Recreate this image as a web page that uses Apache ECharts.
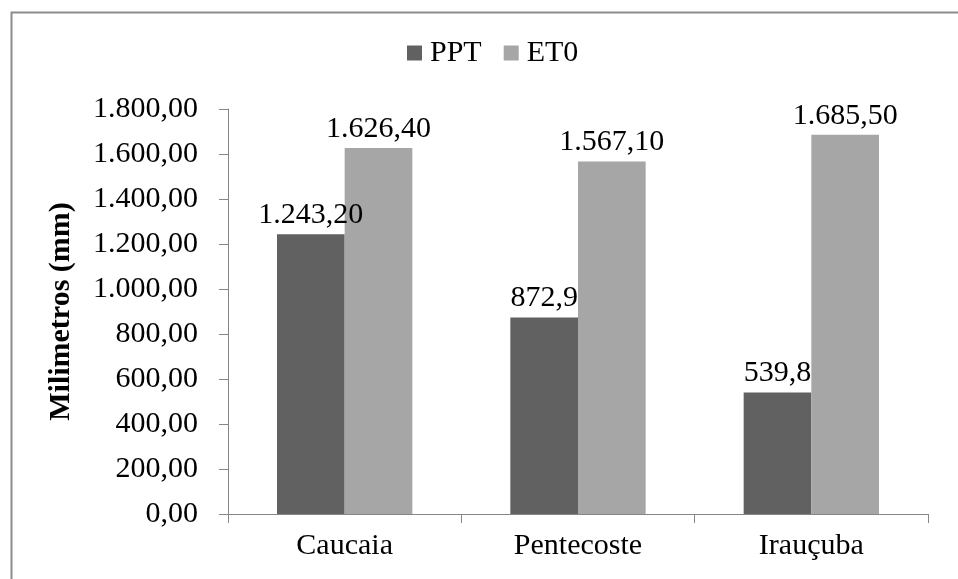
<!DOCTYPE html>
<html>
<head>
<meta charset="utf-8">
<script src="https://cdn.jsdelivr.net/npm/echarts@6/dist/echarts.min.js"></script>
<style>
  html, body { margin: 0; padding: 0; background: #fff; }
  #chart { width: 958px; height: 579px; }
</style>
</head>
<body>
<div id="chart"></div>
<script>
let categories = ["Caucaia", "Pentecoste", "Irauçuba"]
let pptValues = [1243.2, 872.9, 539.8]
let et0Values = [1626.4, 1567.1, 1685.5]
let pptLabels = ["1.243,20", "872,9", "539,8"]
let et0Labels = ["1.626,40", "1.567,10", "1.685,50"]
let yTicks = ["0,00", "200,00", "400,00", "600,00", "800,00", "1.000,00", "1.200,00", "1.400,00", "1.600,00", "1.800,00"]

let font = "'Liberation Serif', 'Times New Roman', serif"
let axisColor = "#868686"

function barSeries(name, values, labels, color) {
  return {
    name: name,
    type: "bar",
    data: values,
    barGap: "0%",
    barCategoryGap: "42%",
    itemStyle: { color: color },
    label: {
      show: true,
      position: "top",
      distance: 4,
      color: "#000",
      fontFamily: font,
      fontSize: 30,
      formatter: p => labels[p.dataIndex]
    }
  }
}

let chart = echarts.init(document.getElementById("chart"))
chart.setOption({
  animation: false,
  textStyle: { fontFamily: font },
  graphic: [{
    type: "rect",
    left: 9, top: 10,
    shape: { width: 980, height: 600 },
    style: { fill: "none", stroke: "#8c8c8c", lineWidth: 2 },
    silent: true
  }],
  legend: {
    top: 33,
    left: 402,
    itemWidth: 15,
    itemHeight: 15,
    itemGap: 22,
    icon: "rect",
    textStyle: { fontFamily: font, fontSize: 30, color: "#000", padding: [0, 0, 0, 3] },
    data: ["PPT", "ET0"]
  },
  grid: { left: 228, right: 30, top: 109, bottom: 65 },
  xAxis: {
    type: "category",
    data: categories,
    axisLine: { lineStyle: { color: axisColor, width: 1 } },
    axisTick: { show: true, inside: false, length: 9, alignWithLabel: false, lineStyle: { color: axisColor } },
    axisLabel: { color: "#000", fontFamily: font, fontSize: 30, margin: 17 }
  },
  yAxis: {
    type: "value",
    min: 0,
    max: 1800,
    interval: 200,
    name: "Milimetros (mm)",
    nameLocation: "middle",
    nameGap: 152,
    nameTextStyle: { fontFamily: font, fontSize: 30, fontWeight: "bold", color: "#000" },
    axisLine: { show: true, lineStyle: { color: axisColor, width: 1 } },
    axisTick: { show: true, length: 9, lineStyle: { color: axisColor } },
    splitLine: { show: false },
    axisLabel: {
      color: "#000", fontFamily: font, fontSize: 30, margin: 30,
      formatter: v => yTicks[Math.round(v / 200)]
    }
  },
  series: [
    barSeries("PPT", pptValues, pptLabels, "#616161"),
    barSeries("ET0", et0Values, et0Labels, "#a6a6a6")
  ]
})
</script>
</body>
</html>
